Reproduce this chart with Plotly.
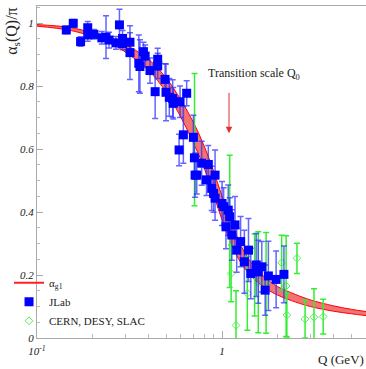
import plotly.graph_objects as go

# ---------------- data ----------------
# theory band alpha_g1/pi
band_q = [0.1, 0.15, 0.2, 0.25, 0.3, 0.4, 0.5, 0.6, 0.7, 0.8, 0.9, 1.0, 1.1, 1.2, 1.3,
          1.5, 1.75, 2.0, 2.5, 3.0, 4.0, 5.0, 6.0]
band_hi = [0.995, 0.986, 0.969, 0.953, 0.932, 0.885, 0.825, 0.755, 0.685, 0.61, 0.53, 0.45,
           0.38, 0.325, 0.28, 0.225, 0.187, 0.163, 0.138, 0.121, 0.102, 0.091, 0.084]
band_lo = [0.990, 0.977, 0.957, 0.935, 0.908, 0.850, 0.780, 0.70, 0.62, 0.54, 0.455, 0.375,
           0.31, 0.262, 0.228, 0.185, 0.155, 0.136, 0.114, 0.10, 0.085, 0.077, 0.071]

# JLab
jlab_q = [0.144, 0.157, 0.172, 0.188, 0.188, 0.203, 0.224, 0.236, 0.245, 0.267, 0.279, 0.290,
          0.290, 0.318, 0.318, 0.355, 0.360, 0.376, 0.384, 0.408, 0.435, 0.449, 0.449, 0.492,
          0.498, 0.519, 0.541, 0.545, 0.593, 0.644, 0.586, 0.618, 0.700, 0.709, 0.715, 0.730,
          0.776, 0.824, 0.843, 0.879, 0.917, 0.900, 0.917, 1.00, 1.02, 1.08, 1.10, 1.05,
          1.175, 1.13, 1.26, 1.20, 1.39, 1.32, 1.43, 1.53, 1.64, 1.57, 1.71, 1.78, 1.96, 2.16]
jlab_v = [0.978, 0.999, 0.941, 0.985, 0.962, 0.964, 0.953, 0.955, 0.946, 0.937, 0.994, 0.951,
          0.935, 0.939, 0.906, 0.872, 0.862, 0.909, 0.895, 0.849, 0.782, 0.885, 0.864, 0.821,
          0.780, 0.764, 0.760, 0.745, 0.750, 0.777, 0.597, 0.645, 0.637, 0.572, 0.517, 0.517,
          0.555, 0.502, 0.551, 0.475, 0.517, 0.459, 0.444, 0.427, 0.417, 0.406, 0.385, 0.353,
          0.359, 0.327, 0.306, 0.279, 0.279, 0.242, 0.205, 0.232, 0.226, 0.210, 0.152, 0.197,
          0.186, 0.202]
jlab_e = [0.012, 0.012, 0.015, 0.02, 0.02, 0.015, 0.02, 0.068, 0.025, 0.02, 0.05, 0.025,
          0.02, 0.03, 0.085, 0.09, 0.085, 0.03, 0.035, 0.04, 0.085, 0.035, 0.04, 0.05,
          0.09, 0.06, 0.06, 0.05, 0.05, 0.04, 0.05, 0.09, 0.07, 0.06, 0.07, 0.06,
          0.07, 0.05, 0.06, 0.07, 0.08, 0.06, 0.07, 0.07, 0.06, 0.08, 0.06, 0.07,
          0.09, 0.08, 0.08, 0.07, 0.10, 0.10, 0.08, 0.10, 0.08, 0.10, 0.08, 0.11,
          0.09, 0.09]

# CERN, DESY, SLAC
world_q = [0.71, 1.10, 1.12, 1.19, 1.37, 1.50, 1.57, 1.73, 2.10, 2.22, 2.24, 2.54, 2.81, 3.14, 3.52]
world_v = [0.63, 0.37, 0.205, 0.04, 0.142, 0.20, 0.177, 0.175, 0.239, 0.165, 0.073, 0.253,
           0.06, 0.066, 0.068]
world_e = [0.21, 0.21, 0.09, 0.11, 0.117, 0.13, 0.16, 0.16, 0.087, 0.16, 0.07, 0.048,
           0.06, 0.09, 0.055]

x_major = [0.1, 1]
x_major_text = ["10<sup>-1</sup>", "1"]
x_minor = [0.2, 0.3, 0.4, 0.5, 0.6, 0.7, 0.8, 0.9, 2, 3, 4, 5, 6]

SERIF = "Liberation Serif, Times New Roman, serif"

fig = go.Figure()

fig.add_trace(go.Scatter(x=band_q, y=band_lo, mode="lines", line=dict(color="#ff0000", width=1, shape="spline"),
                         showlegend=False, hoverinfo="skip"))
fig.add_trace(go.Scatter(x=band_q, y=band_hi, mode="lines", line=dict(color="#ff0000", width=1, shape="spline"),
                         fill="tonexty", fillcolor="rgba(240,100,100,0.9)", showlegend=False, hoverinfo="skip"))
fig.add_trace(go.Scatter(x=[None], y=[None], mode="lines", line=dict(color="#ff2020", width=2),
                         name="α<sub>g1</sub>", legendrank=1))

fig.add_trace(go.Scatter(x=world_q, y=world_v, mode="markers", name="CERN, DESY, SLAC", legendrank=3,
                         marker=dict(symbol="diamond-open", size=6, color="#55ee55", line=dict(width=1)),
                         error_y=dict(type="data", array=world_e, color="#33ee33", thickness=1.5, width=3)))

fig.add_trace(go.Scatter(x=jlab_q, y=jlab_v, mode="markers", name="JLab", legendrank=2,
                         marker=dict(symbol="square", size=9, color="#0000ff"),
                         error_y=dict(type="data", array=jlab_e, color="rgba(50,50,255,0.75)", thickness=1.5, width=3)))

fig.update_layout(
    width=366, height=369,
    margin=dict(l=37, r=0, t=6, b=31, autoexpand=False),
    paper_bgcolor="white", plot_bgcolor="white",
    font=dict(family=SERIF, size=11, color="#222"),
    legend=dict(x=-0.085, y=0.21, xanchor="left", yanchor="top", bgcolor="rgba(0,0,0,0)",
                font=dict(family=SERIF, size=11, color="#222"), itemwidth=30,
                traceorder="normal", tracegroupgap=0),
    showlegend=True,
)

fig.update_xaxes(type="log", range=[-1, 0.778], showline=True, linecolor="#aaaaaa", linewidth=1,
                 mirror=True, showgrid=False, zeroline=False, automargin=False,
                 tickmode="array", tickvals=x_major, ticktext=x_major_text,
                 ticks="inside", ticklen=7, tickcolor="#aaaaaa", ticklabelstandoff=3,
                 tickfont=dict(family=SERIF, size=11, style="italic", color="#222"),
                 minor=dict(tickmode="array", tickvals=x_minor, ticks="inside", ticklen=4, tickcolor="#bbbbbb"))
fig.update_yaxes(range=[0, 1.054], showline=True, linecolor="#aaaaaa", linewidth=1,
                 showgrid=False, zeroline=False, tick0=0, dtick=0.2, automargin=False,
                 ticks="inside", ticklen=6, tickcolor="#aaaaaa",
                 tickfont=dict(family=SERIF, size=11, style="italic", color="#222"),
                 minor=dict(dtick=0.05, ticks="inside", ticklen=3, tickcolor="#bbbbbb"))

fig.add_annotation(text="α<sub>s</sub>(Q)/π", xref="paper", yref="paper", x=-0.075, y=1.0,
                   xanchor="center", yanchor="top", textangle=-90, showarrow=False,
                   font=dict(family=SERIF, size=16, color="#222"))
fig.add_annotation(text="Q (GeV)", xref="paper", yref="paper", x=1.0, y=-0.066,
                   xanchor="right", yanchor="middle", showarrow=False,
                   font=dict(family=SERIF, size=13, color="#222"))
fig.add_annotation(text="Transition scale Q<sub>0</sub>", xref="paper", yref="paper", x=0.515, y=0.795,
                   xanchor="left", yanchor="middle", showarrow=False,
                   font=dict(family=SERIF, size=12, color="#222"))
fig.add_annotation(text="", x=0.0378, y=0.65, xref="x", yref="y", showarrow=True,
                   ax=0, ay=-42, arrowhead=2, arrowsize=1.3, arrowwidth=1, arrowcolor="#e03030")

fig.write_html("out.html", config={"displayModeBar": False},
               post_script="document.body.style.margin='0px';document.body.style.overflow='hidden';")
